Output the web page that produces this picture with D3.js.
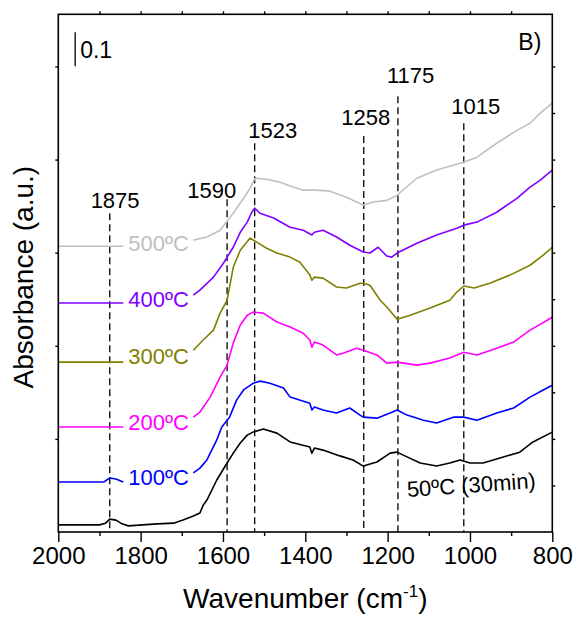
<!DOCTYPE html>
<html>
<head>
<meta charset="utf-8">
<script src="https://cdn.jsdelivr.net/npm/d3@7"></script>
<style>
body { margin: 0; background: #fff; }
text { font-family: "Liberation Sans", Arial, sans-serif; fill: #000; }
</style>
</head>
<body>
<svg></svg>
<script>

var screen = {width: 578, height: 617}
var margins = {top: 14.3, right: 25.7, bottom: 85, left: 58.3}

// spectra, wavenumber (cm-1) and absorbance, null = gap behind the label
var wn50 = [2000,1900,1885,1875,1860,1845,1830,1760,1720,1697,1672,1656,1648,1639,1615,1590,1575,1558,1541,1527,1502,1469,1437,1389,1384,1378,1357,1316,1284,1259,1226,1194,1177,1153,1121,1081,1049,1024,1000,968,919,879,847,800]
var ab50 = [0.021,0.021,0.026,0.038,0.035,0.024,0.018,0.024,0.026,0.035,0.047,0.056,0.079,0.094,0.153,0.203,0.232,0.262,0.285,0.294,0.303,0.291,0.265,0.250,0.232,0.247,0.241,0.224,0.212,0.194,0.206,0.232,0.235,0.221,0.203,0.194,0.203,0.212,0.203,0.203,0.221,0.235,0.265,0.294]

var wn100 = [2000,1890,1875,1860,1842,1760,1672,1656,1639,1615,1603,1584,1567,1550,1526,1510,1486,1453,1437,1389,1384,1378,1357,1324,1292,1267,1259,1226,1194,1177,1153,1113,1081,1040,1015,983,935,894,854,822,800]
var ab100 = [0.147,0.147,0.159,0.156,0.147,null,0.174,0.188,0.212,0.271,0.309,0.338,0.388,0.418,0.438,0.444,0.438,0.424,0.397,0.379,0.359,0.368,0.359,0.350,0.365,0.344,0.338,0.335,0.350,0.359,0.344,0.329,0.321,0.338,0.338,0.329,0.350,0.365,0.397,0.418,0.432]

var wn200 = [2000,1842,1760,1672,1656,1631,1607,1590,1575,1558,1541,1527,1502,1469,1437,1405,1389,1384,1378,1357,1324,1308,1276,1259,1226,1202,1177,1129,1097,1049,1015,983,935,894,854,800]
var ab200 = [0.309,0.309,null,0.338,0.353,0.397,0.456,0.491,0.556,0.609,0.638,0.647,0.644,0.618,0.603,0.585,0.565,0.544,0.559,0.550,0.521,0.526,0.541,0.535,0.521,0.497,0.500,0.491,0.497,0.512,0.529,0.521,0.541,0.559,0.594,0.632]

var wn300 = [2000,1842,1760,1672,1648,1623,1607,1590,1575,1558,1534,1518,1494,1469,1437,1413,1389,1384,1378,1357,1324,1300,1267,1259,1243,1218,1202,1177,1145,1097,1049,1032,1015,990,952,903,854,822,800]
var ab300 = [0.500,0.500,null,0.535,0.565,0.594,0.644,0.682,0.779,0.829,0.865,0.853,0.835,0.821,0.809,0.794,0.756,0.741,0.750,0.747,0.721,0.718,0.732,0.732,0.726,0.682,0.662,0.626,0.638,0.659,0.682,0.706,0.724,0.718,0.732,0.756,0.785,0.815,0.838]

var wn400 = [2000,1842,1760,1672,1656,1623,1599,1575,1558,1541,1530,1523,1510,1477,1437,1405,1384,1378,1357,1324,1292,1259,1243,1223,1202,1190,1177,1129,1081,1032,1015,983,935,886,854,830,800]
var ab400 = [0.674,0.674,null,0.697,0.712,0.750,0.791,0.838,0.882,0.912,0.941,0.953,0.938,0.924,0.897,0.888,0.874,0.882,0.888,0.868,0.844,0.824,0.821,0.838,0.812,0.809,0.821,0.850,0.874,0.894,0.903,0.912,0.941,0.982,1.015,1.035,1.065]

var wn500 = [2000,1842,1760,1672,1639,1607,1575,1550,1534,1522,1494,1461,1437,1405,1373,1340,1300,1259,1235,1202,1177,1129,1081,1015,983,935,886,854,830,800]
var ab500 = [0.841,0.841,null,0.859,0.868,0.888,0.938,0.982,1.012,1.041,1.038,1.029,1.018,1.006,1.006,1.003,0.985,0.962,0.971,0.976,0.991,1.041,1.065,1.088,1.103,1.144,1.182,1.203,1.232,1.262]

var seriesNames = ["50ºC (30min)", "100ºC", "200ºC", "300ºC", "400ºC", "500ºC"]
var seriesColors = ["#000000", "#0000ff", "#ff00ff", "#808000", "#8000ff", "#c0c0c0"]

// dashed peak markers
var peakWn = [1875, 1590, 1523, 1258, 1175, 1015]
var peakTop = [0.938, 0.979, 1.144, 1.165, 1.282, 1.203]
var peakLabelWn = [1862, 1627, 1479, 1253, 1144, 986]
var peakLabelAb = [0.953, 0.982, 1.159, 1.197, 1.321, 1.229]

var xTicks = [2000, 1800, 1600, 1400, 1200, 1000, 800]

var width = screen.width - margins.left - margins.right
var height = screen.height - margins.top - margins.bottom

var xScale = d3.scaleLinear()
    .domain([2000, 800])
    .range([0, width])

var yScale = d3.scaleLinear()
    .domain([0, 1.5235])
    .range([height, 0])

var svg = d3.select("svg")
    .attr("width", screen.width)
    .attr("height", screen.height)

var graph = svg.append("g")
    .attr("id", "graph")
    .attr("transform", "translate(" + margins.left + "," + margins.top + ")")

var series = [
    {wn: wn50, ab: ab50},
    {wn: wn100, ab: ab100},
    {wn: wn200, ab: ab200},
    {wn: wn300, ab: ab300},
    {wn: wn400, ab: ab400},
    {wn: wn500, ab: ab500}
].map(function(s, i)
{
    return {
        name: seriesNames[i],
        color: seriesColors[i],
        points: s.wn.map(function(w, j) { return {wn: w, ab: s.ab[j]} })
    }
})

// peak lines first so the spectra sit on top
var drawPeaks = function()
{
    var peaks = graph.append("g").attr("id", "peaks")
    peakWn.forEach(function(w, i)
    {
        peaks.append("line")
            .attr("x1", xScale(w)).attr("x2", xScale(w))
            .attr("y1", yScale(peakTop[i])).attr("y2", yScale(0))
            .attr("stroke", "#000")
            .attr("stroke-width", 1.3)
            .attr("stroke-dasharray", "7,4")
        peaks.append("text")
            .attr("x", xScale(peakLabelWn[i]))
            .attr("y", yScale(peakLabelAb[i]))
            .attr("text-anchor", "middle")
            .attr("font-size", 22)
            .text(w)
    })
}

var drawline = function(s)
{
    var lineGenerator = d3.line()
        .defined(function(d) { return d.ab != null })
        .x(function(d) { return xScale(d.wn) })
        .y(function(d) { return yScale(d.ab) })

    graph.append("path")
        .datum(s.points)
        .attr("fill", "none")
        .attr("stroke", s.color)
        .attr("stroke-width", 1.6)
        .attr("stroke-linejoin", "round")
        .attr("d", lineGenerator)
}

var drawLabels = function()
{
    series.forEach(function(s, i)
    {
        if (i == 0) return
        var left = s.points.find(function(d) { return d.wn == 1842 }).ab
        var right = s.points.find(function(d) { return d.wn == 1672 }).ab
        graph.append("text")
            .attr("x", xScale(1830))
            .attr("y", yScale((left + right) / 2) + 7.5)
            .attr("font-size", 22)
            .style("fill", s.color)
            .text(s.name)
    })

    // first spectrum label, slightly tilted
    graph.append("text")
        .attr("transform", "translate(" + xScale(1152) + "," + yScale(0.103) + ") rotate(-4)")
        .attr("font-size", 22)
        .text(seriesNames[0])
}

var drawAxes = function()
{
    var axes = graph.append("g").attr("class", "axis")

    axes.append("g")
        .attr("transform", "translate(0," + height + ")")
        .call(d3.axisBottom(xScale).tickValues(d3.range(1900, 800, -200)).tickSize(4).tickFormat(""))
    axes.append("g")
        .attr("transform", "translate(0," + height + ")")
        .call(d3.axisBottom(xScale).tickValues(xTicks).tickSize(10).tickPadding(5).tickFormat(d3.format("d")))
    axes.append("g")
        .call(d3.axisTop(xScale).tickValues(d3.range(1900, 800, -100)).tickSize(3).tickFormat(""))
    axes.append("g")
        .call(d3.axisLeft(yScale).tickValues(d3.range(0.274, 1.5, 0.274)).tickSize(3).tickFormat(""))
    axes.append("g")
        .attr("transform", "translate(" + width + ",0)")
        .call(d3.axisRight(yScale).tickValues(d3.range(0.137, 1.5, 0.137)).tickSize(3).tickFormat(""))

    axes.selectAll(".domain").remove()
    axes.selectAll("line").attr("stroke", "#000").attr("stroke-width", 1.4)
    axes.selectAll("text")
        .attr("font-size", 24)
        .style("font-family", "'Liberation Sans', Arial, sans-serif")
        .attr("fill", "#000")

    graph.append("rect")
        .attr("width", width)
        .attr("height", height)
        .attr("fill", "none")
        .attr("stroke", "#000")
        .attr("stroke-width", 1.6)

    // axis titles
    var xt = svg.append("text")
        .attr("x", margins.left + width / 2)
        .attr("y", 608)
        .attr("text-anchor", "middle")
        .attr("font-size", 28)
    xt.append("tspan").text("Wavenumber (cm")
    xt.append("tspan").attr("font-size", 17).attr("dy", -11).text("-1")
    xt.append("tspan").attr("dy", 11).text(")")

    svg.append("text")
        .attr("transform", "translate(33," + (margins.top + height / 2 + 4) + ") rotate(-90)")
        .attr("text-anchor", "middle")
        .attr("font-size", 28)
        .text("Absorbance (a.u.)")
}

var drawExtras = function()
{
    // 0.1 absorbance scale bar
    graph.append("line")
        .attr("x1", xScale(1959)).attr("x2", xScale(1959))
        .attr("y1", yScale(1.4706)).attr("y2", yScale(1.3706))
        .attr("stroke", "#000")
        .attr("stroke-width", 1.3)
    graph.append("text")
        .attr("x", xScale(1959) + 5)
        .attr("y", yScale(1.3706) - 8)
        .attr("font-size", 23)
        .text("0.1")

    graph.append("text")
        .attr("x", width - 11)
        .attr("y", 36)
        .attr("text-anchor", "end")
        .attr("font-size", 23)
        .text("B)")
}

drawPeaks()
series.forEach(drawline)
drawLabels()
drawAxes()
drawExtras()

</script>
</body>
</html>
